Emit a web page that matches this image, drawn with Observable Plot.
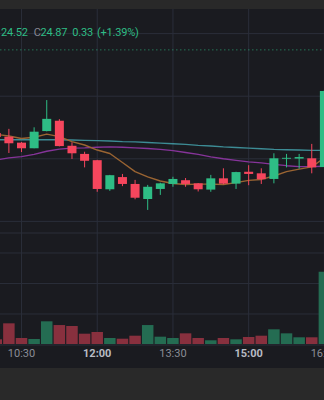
<!DOCTYPE html>
<html><head><meta charset="utf-8">
<script src="https://cdn.jsdelivr.net/npm/d3@7"></script>
<script src="https://cdn.jsdelivr.net/npm/@observablehq/plot@0.6"></script>
<style>
html,body{margin:0;padding:0;background:#292929;width:324px;height:400px;overflow:hidden;}
#chart{position:absolute;top:9px;left:0;width:324px;height:359px;background:#1a1b20;overflow:hidden;}
#legend{position:absolute;top:17px;left:1px;font:11px Roboto, sans-serif;letter-spacing:-0.2px;line-height:14px;color:#2ebd85;white-space:nowrap;z-index:2}
#legend .g{color:#868993}
svg{display:block}
</style></head><body>
<div id="chart"><div id="legend"></div><div id="price"></div><div id="vol"></div></div>
<script>
// ---- data ----
const times = ["10:00","10:15","10:30","10:45","11:00","11:15","11:30","11:45","12:00","12:15","12:30","12:45","13:00","13:15","13:30","13:45","14:00","14:15","14:30","14:45","15:00","15:15","15:30","15:45","16:00","16:15","16:30"];
const open  = [24.881,24.869,24.850,24.832,24.887,24.920,24.840,24.814,24.794,24.701,24.740,24.718,24.670,24.702,24.718,24.730,24.720,24.700,24.736,24.719,24.757,24.752,24.734,24.7985,24.799,24.800,24.772];
const close = [24.868,24.848,24.832,24.885,24.926,24.839,24.816,24.792,24.702,24.746,24.718,24.674,24.709,24.720,24.734,24.718,24.701,24.736,24.719,24.756,24.750,24.733,24.800,24.8015,24.804,24.771,25.015];
const high  = [24.884,24.894,24.852,24.899,24.986,24.925,24.851,24.821,24.795,24.747,24.750,24.731,24.715,24.722,24.741,24.737,24.721,24.747,24.768,24.757,24.778,24.768,24.816,24.814,24.814,24.846,25.018];
const low   = [24.865,24.817,24.820,24.832,24.886,24.838,24.798,24.771,24.693,24.696,24.711,24.669,24.635,24.683,24.709,24.709,24.694,24.693,24.717,24.702,24.714,24.718,24.720,24.771,24.767,24.752,24.772];
const volume = [7.7,33.9,9.8,8.2,37.2,31.1,29.5,16.9,19.7,9.8,8.7,13.6,31.1,12.0,9.8,17.5,9.8,6.1,9.8,7.7,11.5,13.6,24.1,17.5,11.0,11.0,118.5];
const maFast = [24.878,24.873,24.865,24.869,24.879,24.871,24.855,24.844,24.828,24.817,24.788,24.759,24.742,24.729,24.721,24.718,24.719,24.719,24.718,24.724,24.731,24.734,24.745,24.759,24.767,24.774,24.803];
const maMid  = [24.796,24.803,24.807,24.814,24.824,24.831,24.834,24.835,24.837,24.838,24.837,24.835,24.833,24.830,24.826,24.820,24.814,24.806,24.800,24.795,24.790,24.787,24.782,24.778,24.775,24.775,24.776];
const maSlow = [24.861,24.861,24.861,24.861,24.861,24.861,24.860,24.859,24.858,24.857,24.855,24.854,24.852,24.850,24.848,24.846,24.843,24.841,24.838,24.836,24.834,24.832,24.830,24.829,24.828,24.827,24.827];
const priceLine = 25.148;
const priceGrid = [24.6, 24.8, 25.0, 25.2];
const volGrid = [50, 100, 150];
const timeTicks = ["10:30","12:00","13:30","15:00","16:30"];
const legendLow = "24.52", legendClose = "24.87", legendChange = "0.33", legendPct = "(+1.39%)";

// ---- styles ----
const UP = "#2ebd85", DOWN = "#f6465d", VUP = "#246c52", VDOWN = "#88303e";
const GRID = "#2a2e39";
const toMin = s => { const [h, m] = s.split(":").map(Number); return h * 60 + m; };
const candles = times.map((t, i) => ({
  t: toMin(t), o: open[i], c: close[i], h: high[i], l: low[i], v: volume[i],
  f: maFast[i], m: maMid[i], s: maSlow[i], up: close[i] >= open[i]
}));
const xDomain = [605.04, 990.14];
const tickMins = timeTicks.map(toMin);

document.getElementById("legend").innerHTML =
  `<span>${legendLow}</span><span class="g" style="margin-left:6px">C</span><span>${legendClose}</span>` +
  `<span style="margin-left:5px">${legendChange}</span><span style="margin-left:4px">${legendPct}</span>`;

const price = Plot.plot({
  width: 324, height: 223, margin: 0,
  style: {background: "transparent"},
  x: {domain: xDomain, axis: null},
  y: {domain: [24.5645, 25.277], axis: null},
  marks: [
    Plot.ruleY(priceGrid, {stroke: GRID}),
    Plot.ruleX(tickMins, {stroke: GRID}),
    Plot.ruleY([priceLine], {stroke: UP, strokeOpacity: 0.55, strokeDasharray: "1.5,2.5"}),
    Plot.line(candles, {x: "t", y: "s", stroke: "#3d8c95", strokeWidth: 1.4}),
    Plot.line(candles, {x: "t", y: "m", stroke: "#86349a", strokeWidth: 1.4}),
    Plot.line(candles, {x: "t", y: "f", stroke: "#9a6432", strokeWidth: 1.4}),
    Plot.ruleX(candles, {x: "t", y1: "l", y2: "h", stroke: d => d.up ? UP : DOWN}),
    Plot.ruleX(candles, {x: "t", y1: "o", y2: "c", stroke: d => d.up ? UP : DOWN, strokeWidth: 9})
  ]
});
document.getElementById("price").append(price);

const vol = Plot.plot({
  width: 324, height: 136, marginTop: 0, marginBottom: 24, marginLeft: 0, marginRight: 0,
  style: {background: "transparent"},
  x: {domain: xDomain, axis: null},
  y: {domain: [0, 183.6], axis: null},
  marks: [
    Plot.ruleY(volGrid, {stroke: GRID}),
    Plot.ruleX(tickMins, {stroke: GRID}),
    Plot.ruleY([183.6], {stroke: GRID, dy: 0.5}),
    Plot.ruleX(candles, {x: "t", y1: 0, y2: "v", stroke: d => d.up ? VUP : VDOWN, strokeWidth: 11.5}),
    Plot.ruleY([0], {stroke: GRID, dy: 0.5}),
    Plot.text(timeTicks.filter(d => !d.endsWith(":00")), {x: d => toMin(d), text: d => d, frameAnchor: "bottom", dy: 12, fill: "#8a8d96", fontSize: 11, fontFamily: "Roboto, sans-serif"}),
    Plot.text(timeTicks.filter(d => d.endsWith(":00")), {x: d => toMin(d), text: d => d, frameAnchor: "bottom", dy: 12, fill: "#b8bbc3", fontSize: 11, fontWeight: "bold", fontFamily: "Roboto, sans-serif"})
  ]
});
document.getElementById("vol").append(vol);
</script>
</body></html>
